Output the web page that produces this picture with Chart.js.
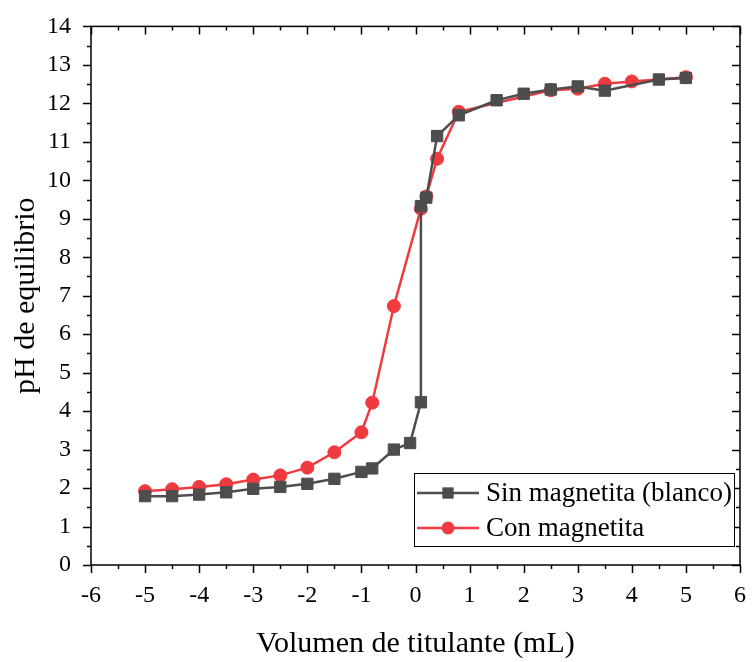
<!DOCTYPE html>
<html>
<head>
<meta charset="utf-8">
<script src="https://cdn.jsdelivr.net/npm/chart.js@4/dist/chart.umd.min.js"></script>
<style>
  html, body { margin: 0; padding: 0; background: #fff; }
  #wrap { width: 754px; height: 662px; }
</style>
</head>
<body>
<div id="wrap"><canvas id="myChart"></canvas></div>
<script>
/* titration curves */

let vol_sin = [-5, -4.5, -4, -3.5, -3, -2.5, -2, -1.5, -1, -0.8, -0.4, -0.1, 0.1, 0.1, 0.2, 0.4, 0.8, 1.5, 2, 2.5, 3, 3.5, 4.5, 5];
let ph_sin  = [1.79, 1.79, 1.83, 1.89, 1.98, 2.03, 2.11, 2.24, 2.42, 2.51, 3.0, 3.17, 4.23, 9.33, 9.55, 11.15, 11.69, 12.08, 12.25, 12.36, 12.44, 12.33, 12.62, 12.66];

let vol_con = [-5, -4.5, -4, -3.5, -3, -2.5, -2, -1.5, -1, -0.8, -0.4, 0.1, 0.2, 0.4, 0.8, 2.5, 3, 3.5, 4, 5];
let ph_con  = [1.92, 1.97, 2.03, 2.10, 2.22, 2.33, 2.53, 2.93, 3.45, 4.22, 6.73, 9.26, 9.58, 10.56, 11.78, 12.34, 12.38, 12.51, 12.57, 12.68];

let x_ticks = [-6, -5, -4, -3, -2, -1, 0, 1, 2, 3, 4, 5, 6];
let y_ticks = [0, 1, 2, 3, 4, 5, 6, 7, 8, 9, 10, 11, 12, 13, 14];

let serif = "'Liberation Serif', 'Times New Roman', serif";

function to_points(xs, ys) {
  return xs.map((x, i) => ({ x: x, y: ys[i] }));
}

// frame with ticks on four sides
let frame_plugin = {
  id: "frame",
  afterDatasetsDraw(chart) {
    let ctx = chart.ctx;
    let a = chart.chartArea;
    let sx = chart.scales.x;
    let sy = chart.scales.y;
    ctx.save();
    ctx.strokeStyle = "#000";
    ctx.lineWidth = 1.5;
    ctx.strokeRect(a.left, a.top, a.right - a.left, a.bottom - a.top);
    ctx.beginPath();
    for (let v = x_ticks[0]; v <= x_ticks[x_ticks.length - 1]; v += 0.5) {
      let px = Math.round(sx.getPixelForValue(v)) + 0.5;
      let len = Number.isInteger(v) ? 8 : 4;
      ctx.moveTo(px, a.bottom);
      ctx.lineTo(px, a.bottom + len);
      ctx.moveTo(px, a.top);
      ctx.lineTo(px, a.top + len);
    }
    for (let v = y_ticks[0]; v <= y_ticks[y_ticks.length - 1]; v += 0.5) {
      let py = Math.round(sy.getPixelForValue(v)) + 0.5;
      let len = Number.isInteger(v) ? 8 : 4;
      ctx.moveTo(a.left, py);
      ctx.lineTo(a.left - len, py);
      ctx.moveTo(a.right, py);
      ctx.lineTo(a.right - len, py);
    }
    ctx.stroke();
    ctx.restore();
  },
  afterDraw(chart) {
    // legend box inside the plot
    let ctx = chart.ctx;
    let sets = chart.data.datasets;
    let bx = 414, by = 473, bw = 320, bh = 73;
    ctx.save();
    ctx.fillStyle = "#fff";
    ctx.fillRect(bx, by, bw, bh);
    ctx.strokeStyle = "#000";
    ctx.lineWidth = 1;
    ctx.strokeRect(bx + 0.5, by + 0.5, bw, bh);
    sets.forEach((ds, i) => {
      let cy = by + 20 + i * 35;
      ctx.strokeStyle = ds.borderColor;
      ctx.lineWidth = ds.borderWidth;
      ctx.beginPath();
      ctx.moveTo(bx + 3, cy);
      ctx.lineTo(bx + 65, cy);
      ctx.stroke();
      ctx.fillStyle = ds.backgroundColor;
      Chart.helpers.drawPoint(ctx, {
        pointStyle: ds.pointStyle,
        radius: ds.pointRadius,
        borderWidth: 0
      }, bx + 34, cy);
      ctx.fillStyle = "#000";
      ctx.font = "27px " + serif;
      ctx.textBaseline = "middle";
      ctx.fillText(ds.label, bx + 72, cy + 1);
    });
    ctx.restore();
  }
};

new Chart("myChart", {
  type: "line",
  data: {
    datasets: [
      {
        label: "Sin magnetita (blanco)",
        data: to_points(vol_sin, ph_sin),
        borderColor: "#4d4d4d",
        backgroundColor: "#4d4d4d",
        borderWidth: 2.5,
        pointStyle: "rect",
        pointRadius: 8,
        pointBorderWidth: 1,
        tension: 0
      },
      {
        label: "Con magnetita",
        data: to_points(vol_con, ph_con),
        borderColor: "#ef3a3f",
        backgroundColor: "#ef3a3f",
        borderWidth: 2.5,
        pointStyle: "circle",
        pointRadius: 6.5,
        pointBorderWidth: 1,
        tension: 0
      }
    ]
  },
  options: {
    responsive: true,
    maintainAspectRatio: false,
    animation: false,
    layout: { padding: { top: 13, right: 2, left: 0, bottom: 0 } },
    plugins: {
      legend: { display: false },
      tooltip: { enabled: false }
    },
    scales: {
      x: {
        type: "linear",
        min: -6,
        max: 6,
        afterFit: (scale) => { scale.height = 97; },
        afterBuildTicks: (scale) => { scale.ticks = x_ticks.map((v) => ({ value: v })); },
        grid: { display: false },
        border: { display: false },
        ticks: {
          color: "#000",
          font: { family: serif, size: 24 },
          padding: 8,
          maxRotation: 0
        },
        title: {
          display: true,
          text: "Volumen de titulante (mL)",
          color: "#000",
          font: { family: serif, size: 30 },
          padding: { top: 0, bottom: 0 }
        }
      },
      y: {
        min: 0,
        max: 14,
        afterFit: (scale) => { scale.width = 91; },
        afterBuildTicks: (scale) => { scale.ticks = y_ticks.map((v) => ({ value: v })); },
        grid: { display: false },
        border: { display: false },
        ticks: {
          color: "#000",
          font: { family: serif, size: 24 },
          padding: 12
        },
        title: {
          display: true,
          text: "pH de equilibrio",
          color: "#000",
          font: { family: serif, size: 30 },
          padding: { top: 8, bottom: 0 }
        }
      }
    }
  },
  plugins: [frame_plugin]
});
</script>
</body>
</html>
